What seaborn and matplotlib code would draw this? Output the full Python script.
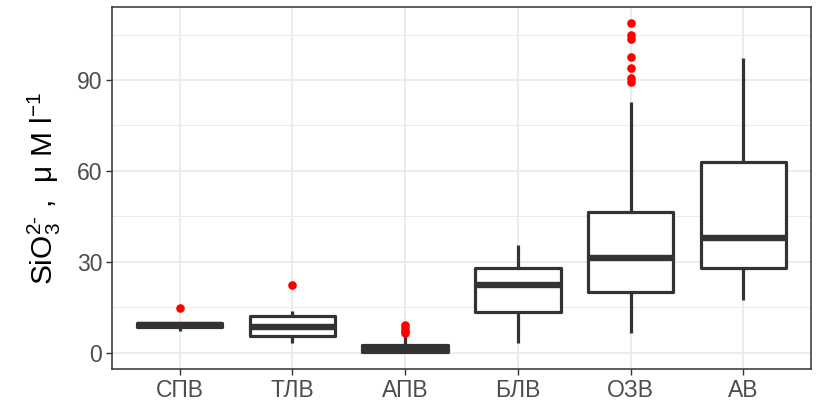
import matplotlib
matplotlib.use("Agg")
import matplotlib.pyplot as plt
from matplotlib.ticker import FixedLocator
import pandas as pd
import seaborn as sns

# Water masses and silicate box statistics (µM/l)
categories = ["СПВ", "ТЛВ", "АПВ", "БЛВ", "ОЗВ", "АВ"]
whisker_low = [7.0, 3.3, 0.0, 3.3, 6.6, 17.5]
quart1 = [8.4, 5.6, 0.3, 13.4, 20.0, 28.0]
median = [9.0, 8.6, 1.0, 22.4, 31.3, 37.8]
quart3 = [9.7, 12.0, 2.4, 27.9, 46.3, 62.8]
whisker_high = [9.7, 13.8, 5.4, 35.6, 82.8, 97.2]
outliers = [
    [14.9],
    [22.4],
    [9.0, 8.0, 7.2, 6.6],
    [],
    [108.7, 105.0, 103.7, 97.5, 94.1, 90.6, 89.5],
    [],
]

sns.set_theme(style="white")
plt.rcParams["font.family"] = ["Liberation Sans", "DejaVu Sans"]
plt.rcParams["mathtext.fontset"] = "custom"
plt.rcParams["mathtext.rm"] = "Liberation Sans"
plt.rcParams["mathtext.it"] = "Liberation Sans:italic"

dark = "#333333"
grid = "#EBEBEB"

fig = plt.figure(figsize=(8.17, 4.05), dpi=100)
ax = fig.add_axes([112 / 817, 1 - 369 / 405, (811 - 112) / 817, (369 - 7) / 405])

# outlying points
out_df = pd.DataFrame(
    [(c, v) for c, vals in zip(categories, outliers) for v in vals],
    columns=["group", "value"],
)
sns.stripplot(data=out_df, x="group", y="value", order=categories, jitter=False,
              color="#FF0000", size=6.2, linewidth=0, ax=ax, zorder=4)

stats = [
    dict(label=c, whislo=lo, q1=a, med=m, q3=b, whishi=hi, fliers=[])
    for c, lo, a, m, b, hi in zip(categories, whisker_low, quart1, median,
                                   quart3, whisker_high)
]
ax.bxp(stats, positions=range(len(categories)), widths=0.76, showfliers=False,
       showcaps=False, patch_artist=True,
       boxprops=dict(facecolor="white", edgecolor=dark, linewidth=2.3,
                     joinstyle="round"),
       whiskerprops=dict(color=dark, linewidth=2.3, solid_capstyle="butt"),
       medianprops=dict(color=dark, linewidth=4.6, solid_capstyle="butt"),
       zorder=3)

ax.set_xlim(-0.6, 5.6)
ax.set_ylim(-5.4, 114.1)
ax.set_xticks(range(len(categories)))
ax.set_xticklabels(categories)
ax.set_yticks([0, 30, 60, 90])
ax.yaxis.set_minor_locator(FixedLocator([15, 45, 75, 105]))

ax.grid(True, which="major", color=grid, linewidth=1.3, zorder=0)
ax.grid(True, which="minor", axis="y", color=grid, linewidth=0.7, zorder=0)
ax.set_axisbelow(True)

for sp in ax.spines.values():
    sp.set_visible(True)
    sp.set_color(dark)
    sp.set_linewidth(1.1)

ax.tick_params(axis="both", which="major", length=4, width=1.0, color=dark,
               labelsize=16.5, labelcolor="#4D4D4D", pad=3, bottom=True, left=True)
ax.tick_params(axis="y", which="minor", length=0)

ax.set_xlabel("")
ax.set_ylabel(r"SiO$_3^{2\text{-}}$ ,  μ M l$^{-1}$", fontsize=21.5, color="black",
              labelpad=10)

fig.savefig("out.png", dpi=100)
